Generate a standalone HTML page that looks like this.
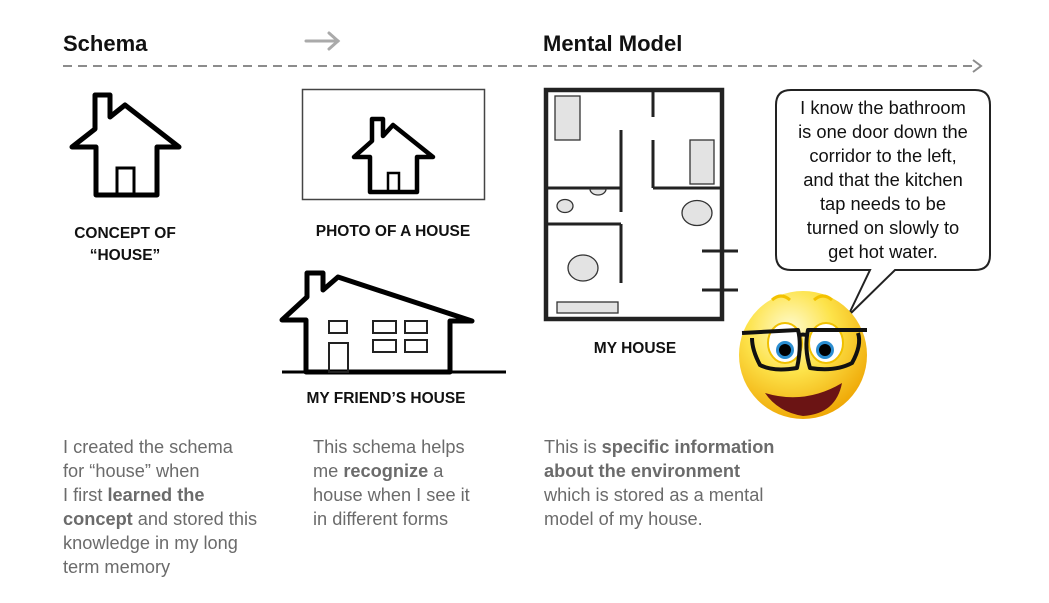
<!DOCTYPE html>
<html><head><meta charset="utf-8"><style>
body{margin:0;width:1049px;height:603px;background:#fff;overflow:hidden;font-family:"Liberation Sans",Arial,sans-serif;}
.t{position:absolute;white-space:nowrap}
.h{font-size:22px;font-weight:bold;color:#111}
.lab{font-size:15.5px;font-weight:bold;color:#111;text-align:center}
.body{font-size:18.2px;line-height:24px;color:#6b6b6b}
.body b{color:#6b6b6b}
</style></head><body>
<svg width="1049" height="603" style="position:absolute;left:0;top:0">
<line x1="63" y1="66" x2="975" y2="66" stroke="#8c8c8c" stroke-width="2" stroke-dasharray="9,6"/>
<polyline points="973,60 981,66 973,72" fill="none" stroke="#8c8c8c" stroke-width="2"/>
<g stroke="#aaa" stroke-width="3" fill="none" stroke-linecap="round"><line x1="306" y1="41" x2="338" y2="41"/><polyline points="329,33 338,41 329,49"/></g>
<g fill="none" stroke="#000" stroke-width="5" stroke-linejoin="round">
<path d="M95,95 L110,95 L110,117 L125,105 L179,147 L157,147 L157,195 L96,195 L96,147 L72,147 L95,129 Z"/>
<path d="M372,119 L383,119 L383,136 L393,125 L433,157 L417,157 L417,192 L370,192 L370,157 L354,157 L372,141 Z" stroke-width="4.5"/>
<path d="M307,273 L323,273 L323,290 L338,277 L472,321 L450,321 L450,372 L306,372 L306,320 L282,320 L307,297 Z"/>
</g>
<rect x="117" y="168" width="17" height="27" fill="none" stroke="#000" stroke-width="3"/>
<rect x="388" y="173" width="11" height="19" fill="none" stroke="#000" stroke-width="2.5"/>
<rect x="302.5" y="89.5" width="182" height="110" fill="none" stroke="#444" stroke-width="1.5"/>
<line x1="282" y1="372" x2="506" y2="372" stroke="#000" stroke-width="3"/>
<g fill="none" stroke="#222" stroke-width="2">
<rect x="329" y="321" width="18" height="12"/><rect x="373" y="321" width="23" height="12"/><rect x="405" y="321" width="22" height="12"/>
<rect x="373" y="340" width="23" height="12"/><rect x="405" y="340" width="22" height="12"/>
<rect x="329" y="343" width="19" height="29"/>
</g>
<rect x="546" y="90" width="176" height="229" fill="none" stroke="#222" stroke-width="4.5"/>
<g stroke="#222" stroke-width="3" fill="none">
<line x1="653" y1="90" x2="653" y2="117"/><line x1="653" y1="140" x2="653" y2="188"/><line x1="653" y1="188" x2="722" y2="188"/>
<line x1="621" y1="130" x2="621" y2="212"/><line x1="546" y1="188" x2="621" y2="188"/>
<line x1="546" y1="224" x2="621" y2="224"/><line x1="621" y1="224" x2="621" y2="283"/>
<line x1="702" y1="251" x2="738" y2="251"/><line x1="702" y1="290" x2="738" y2="290"/>
</g>
<g fill="#e3e3e3" stroke="#333" stroke-width="1.3">
<rect x="555" y="96" width="25" height="44"/><rect x="690" y="140" width="24" height="44"/>
<ellipse cx="565" cy="206" rx="8" ry="6.5"/><path d="M590,189 A8,6 0 0 0 606,189 Z"/>
<ellipse cx="697" cy="213" rx="15" ry="12.5"/><ellipse cx="583" cy="268" rx="15" ry="13"/>
<rect x="557" y="302" width="61" height="11"/>
</g>
<path d="M791,90 L975,90 Q990,90 990,105 L990,255 Q990,270 975,270 L895,270 L848,316 L870,270 L791,270 Q776,270 776,255 L776,105 Q776,90 791,90 Z" fill="#fff" stroke="#222" stroke-width="2"/>
<defs><radialGradient id="g" cx="0.4" cy="0.3" r="0.75"><stop offset="0" stop-color="#fffbd0"/><stop offset="0.45" stop-color="#fde34a"/><stop offset="1" stop-color="#eea300"/></radialGradient></defs>
<circle cx="803" cy="355" r="64" fill="url(#g)"/>
<path d="M772,300 Q781,292 790,300 M814,300 Q823,292 832,300" stroke="#f3c200" stroke-width="3" fill="none"/>
<ellipse cx="785" cy="343" rx="17" ry="20" fill="#fff" stroke="#f0c000" stroke-width="2"/><ellipse cx="826" cy="343" rx="17" ry="20" fill="#fff" stroke="#f0c000" stroke-width="2"/>
<circle cx="785" cy="350" r="9" fill="#2b8dd0"/><circle cx="785" cy="350" r="6" fill="#000"/>
<circle cx="825" cy="350" r="9" fill="#2b8dd0"/><circle cx="825" cy="350" r="6" fill="#000"/>
<g fill="none" stroke="#111" stroke-width="4" stroke-linejoin="round"><path d="M742,333 L798,330 Q802,345 797,368 Q773,372 760,365 Q752,350 752,338"/><path d="M867,330 L808,330 Q804,348 810,368 Q835,372 852,363 Q862,345 858,333"/><path d="M798,336 Q803,333 808,336"/></g>
<path d="M765,393 Q805,405 842,383 Q836,414 803,416 Q778,412 765,393 Z" fill="#6b1414"/>
</svg>
<div class="t h" style="left:63px;top:31px">Schema</div>
<div class="t h" style="left:543px;top:31px">Mental Model</div>
<div class="t lab" style="left:60px;top:223px;width:130px;line-height:22px">CONCEPT OF<br>“HOUSE”</div>
<div class="t lab" style="left:293px;top:223px;width:200px">PHOTO OF A HOUSE</div>
<div class="t lab" style="left:286px;top:390px;width:200px">MY FRIEND’S HOUSE</div>
<div class="t lab" style="left:535px;top:340px;width:200px">MY HOUSE</div>
<div class="t" style="left:776px;top:96px;width:214px;text-align:center;font-size:18.3px;line-height:24px;color:#111">I know the bathroom<br>is one door down the<br>corridor to the left,<br>and that the kitchen<br>tap needs to be<br>turned on slowly to<br>get hot water.</div>
<div class="t body" style="left:63px;top:435px">I created the schema<br>for “house” when<br>I first <b>learned the<br>concept</b> and stored this<br>knowledge in my long<br>term memory</div>
<div class="t body" style="left:313px;top:435px">This schema helps<br>me <b>recognize</b> a<br>house when I see it<br>in different forms</div>
<div class="t body" style="left:544px;top:435px">This is <b>specific information<br>about the environment</b><br>which is stored as a mental<br>model of my house.</div>
</body></html>
